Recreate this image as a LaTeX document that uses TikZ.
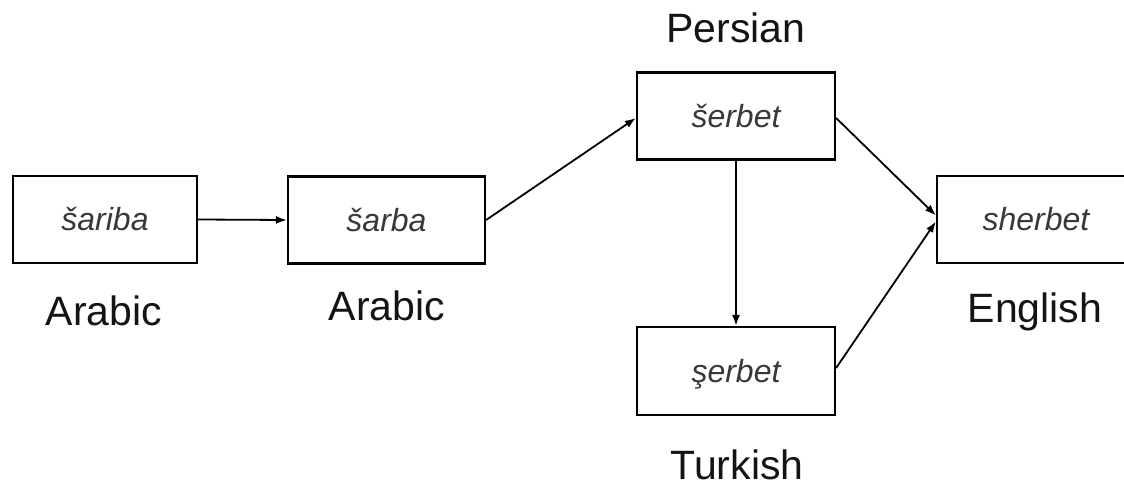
\documentclass[tikz,border=0pt]{standalone}
\usepackage{fontspec}
\setmainfont{Liberation Sans}
\usetikzlibrary{arrows.meta}
\newcommand{\wordSize}[0]{\fontsize{32}{38}\selectfont}
\newcommand{\langSize}[0]{\fontsize{41}{48}\selectfont}

\begin{document}
\begin{tikzpicture}[x=1pt, y=-1pt, line width=1.8pt]
  \tikzset{word box/.style={draw, line width=2.2pt, minimum width=198pt, minimum height=87pt,
      inner sep=0pt, text height=30pt, text depth=7pt, font=\wordSize\itshape, text=black!78},
    lang label/.style={anchor=base, inner sep=0pt, text depth=0pt, font=\langSize, text=black!92},
    etym/.style={-{Latex[length=11pt,width=8pt]}}}
  \clip (0,0) rectangle (1124,486);
  \node[word box, minimum width=184pt] (word-1-1) at (105,219.5) {šariba};
  \node[word box, minimum width=197pt] (word-1-2) at (386.5,220) {šarba};
  \node[word box] (word-2-1) at (736,116) {šerbet};
  \node[word box, minimum height=88pt] (word-2-2) at (736,371) {şerbet};
  \node[word box] (word-3-1) at (1036,219.5) {sherbet};
  \node[lang label] (lang-1-1) at (104,325) {Arabic};
  \node[lang label] (lang-1-2) at (387,320) {Arabic};
  \node[lang label] (lang-2-1) at (736,43) {Persian};
  \node[lang label] (lang-2-2) at (737,479) {Turkish};
  \node[lang label] (lang-3-1) at (1035,323) {English};
  \draw[etym] (word-1-1.east) -- (word-1-2.west);
  \draw[etym] (word-1-2.east) -- ([yshift=-2pt]word-2-1.west);
  \draw[etym] (word-2-1.south) -- (word-2-2.north);
  \draw[etym] ([yshift=-2pt]word-2-1.east) -- ([yshift=4pt]word-3-1.west);
  \draw[etym] ([yshift=3pt]word-2-2.east) -- ([yshift=-2pt]word-3-1.west);
\end{tikzpicture}
\end{document}
